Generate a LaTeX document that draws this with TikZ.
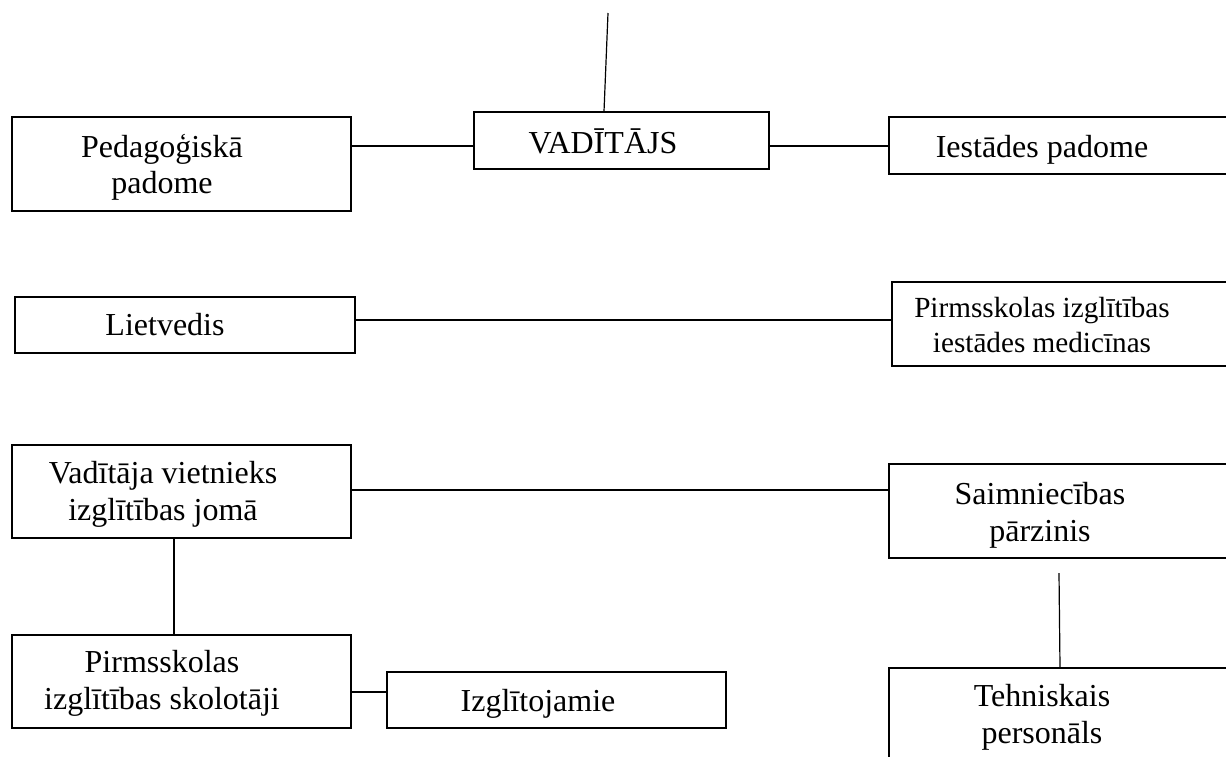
\documentclass[tikz,border=0pt]{standalone}
\usepackage{fontspec}
\setmainfont{Liberation Serif}
\usetikzlibrary{calc}

\tikzset{
  box/.style 2 args={draw, line width=0.6pt, minimum width=#1*0.5pt,
    minimum height=#2*0.5pt, inner sep=0pt},
  lbl/.style={anchor=base, align=center, inner sep=0pt,
    font=\fontsize{16pt}{18.25pt}\selectfont},
  small/.style={font=\fontsize{14.6pt}{17.5pt}\selectfont},
  con/.style={line width=0.6pt}
}

\begin{document}
\begin{tikzpicture}[x=0.5pt,y=-0.5pt]
  \useasboundingbox (0,0) rectangle (1226,756);
  \clip (0,0) rectangle (1226,756);
  % boxes
  \node[box={339}{94}] (ped) at (181.5,164) {};
  \node[box={295}{57}] (vad) at (621.5,140.5) {};
  \node[box={342}{57}] (iest) at (1060,145.5) {};
  \node[box={340}{56}] (liet) at (185,325) {};
  \node[box={339}{84}] (med) at (1061.5,324) {};
  \node[box={339}{93}] (vadv) at (181.5,491.5) {};
  \node[box={342}{94}] (saim) at (1060,511) {};
  \node[box={339}{93}] (sk) at (181.5,681.5) {};
  \node[box={339}{56}] (izgl) at (556.5,700) {};
  \node[box={342}{96}] (tehn) at (1060,716) {};
  % texts
  \node[lbl] (ped-t) at (162,193.5) {Pedagoģiskā\\padome};
  \node[lbl] (vad-t) at (603,153) {VADĪTĀJS};
  \node[lbl] (iest-t) at (1042,157) {Iestādes padome};
  \node[lbl] (liet-t) at (165,335.5) {Lietvedis};
  \node[lbl,small] (med-t) at (1042,352) {Pirmsskolas izglītības\\iestādes medicīnas};
  \node[lbl] (vadv-t) at (163,520) {Vadītāja vietnieks\\izglītības jomā};
  \node[lbl] (saim-t) at (1040,541) {Saimniecības\\pārzinis};
  \node[lbl] (sk-t) at (162,709) {Pirmsskolas\\izglītības skolotāji};
  \node[lbl] (izgl-t) at (538,711) {Izglītojamie};
  \node[lbl] (tehn-t) at (1042,743) {Tehniskais\\personāls};
  % connectors
  \coordinate (vtop) at (608,13);
  \coordinate (sbot) at (1059,573);
  \draw[con] (vtop) -- (604,0 |- vad.north);
  \draw[con] (ped.east |- 0,146) -- (vad.west |- 0,146);
  \draw[con] (vad.east |- 0,146) -- (iest.west |- 0,146);
  \draw[con] (liet.east |- 0,320) -- (med.west |- 0,320);
  \draw[con] (vadv.east |- 0,490) -- (saim.west |- 0,490);
  \draw[con] (174,0 |- vadv.south) -- (174,0 |- sk.north);
  \draw[con] (sk.east |- 0,692) -- (izgl.west |- 0,692);
  \draw[con] (sbot) -- (1060,0 |- tehn.north);
\end{tikzpicture}
\end{document}
